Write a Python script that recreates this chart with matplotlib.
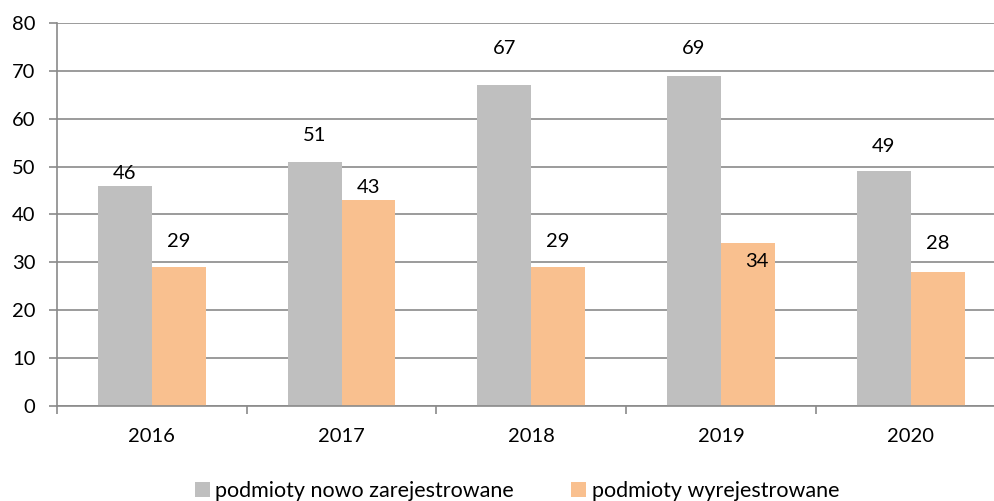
import numpy as np
import matplotlib
matplotlib.use('Agg')
import matplotlib.pyplot as plt

years = ['2016', '2017', '2018', '2019', '2020']
registered = [46, 51, 67, 69, 49]
deregistered = [29, 43, 29, 34, 28]
labels = ['podmioty nowo zarejestrowane', 'podmioty wyrejestrowane']

# positions of value labels (data units), as placed in the original
reg_label_y = [48.5, 56.6, 74.6, 74.6, 54.3]
dereg_label_y = [34.3, 45.7, 34.3, 30.1, 34.0]

plt.rcParams['font.family'] = ['Lato', 'DejaVu Sans']
grid_col = '#8a8a8a'

fig = plt.figure(figsize=(9.95, 5.01), dpi=100)
ax = fig.add_axes([57 / 995, 1 - 406 / 501, 948.5 / 995, 383 / 501])

x = np.arange(len(years))
w = 0.284
ax.bar(x - w / 2, registered, w, color='#BFBFBF', label=labels[0], zorder=2)
ax.bar(x + w / 2, deregistered, w, color='#F9C08F', label=labels[1], zorder=2)

for i in range(len(years)):
    ax.text(x[i] - w / 2, reg_label_y[i], str(registered[i]), ha='center', va='center',
            fontsize=14.5, color='#000000', zorder=3)
    ax.text(x[i] + w / 2 + (0.05 if i == 3 else 0), dereg_label_y[i], str(deregistered[i]),
            ha='center', va='center', fontsize=14.5, color='#000000', zorder=3)

ax.set_xlim(-0.5, len(years) - 0.5)
ax.set_ylim(0, 80)
ax.set_yticks(range(0, 81, 10))
ax.yaxis.grid(True, color=grid_col, linewidth=1.2, zorder=0)
ax.set_axisbelow(True)

ax.set_xticks(x)
ax.set_xticklabels(years)
ax.set_xticks(np.arange(-0.5, len(years), 1), minor=True)
ax.tick_params(axis='x', which='major', length=0, pad=16, labelsize=14.5)
ax.tick_params(axis='x', which='minor', length=5.5, width=1.2, color=grid_col, direction='out')
ax.tick_params(axis='y', length=5.5, width=1.2, color=grid_col, pad=10, labelsize=14.5)

for s in ['top', 'right']:
    ax.spines[s].set_visible(False)
for s in ['left', 'bottom']:
    ax.spines[s].set_color(grid_col)
    ax.spines[s].set_linewidth(1.2)

fig.legend(loc='center', bbox_to_anchor=(517 / 995, 1 - 491 / 501), ncol=2, frameon=False,
           fontsize=15.5, handlelength=0.71, handleheight=0.71, handletextpad=0.25,
           columnspacing=2.65, borderpad=0)

fig.savefig('out.png', dpi=100)
